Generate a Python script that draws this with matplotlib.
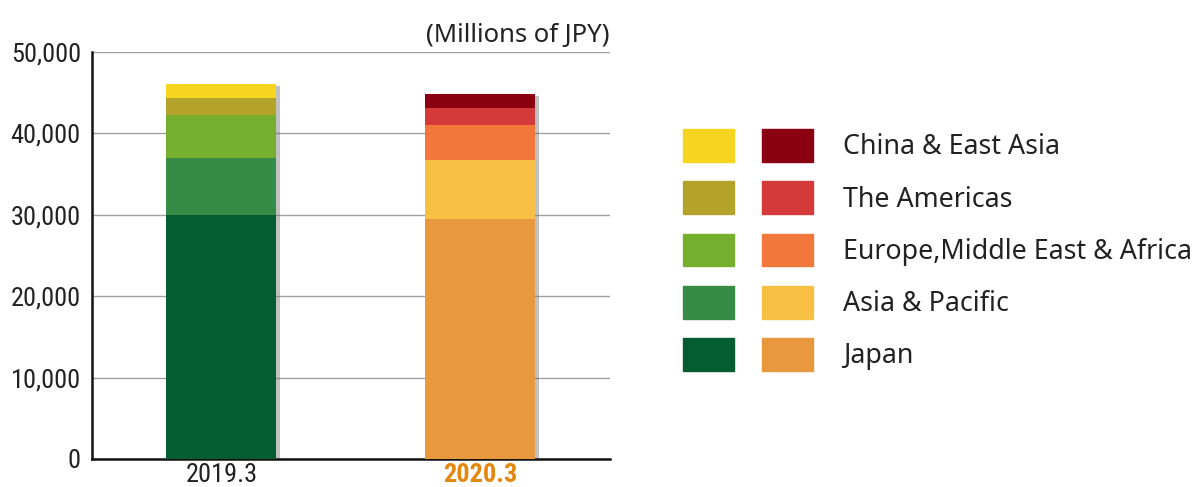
import numpy as np
import matplotlib
matplotlib.use('Agg')
import matplotlib.pyplot as plt
import matplotlib.patheffects as pe
from matplotlib.patches import Patch
from matplotlib.legend_handler import HandlerTuple
from matplotlib import font_manager

# data (millions of JPY)
periods = ['2019.3', '2020.3']
regions = ['Japan', 'Asia & Pacific', 'Europe,Middle East & Africa',
           'The Americas', 'China & East Asia']
sales_2019 = [29900, 7100, 5200, 2100, 1700]
sales_2020 = [29430, 7320, 4290, 2090, 1630]
colors_2019 = ['#045c31', '#368c47', '#76ae2e', '#b3a32a', '#f5d51f']
colors_2020 = ['#e8983d', '#f8bf45', '#f1773a', '#d53a3a', '#8a0010']

# look for a condensed face for the numbers
num_family, num_stretch, num_size = 'DejaVu Sans', 'normal', 15
for f in font_manager.fontManager.ttflist:
    if f.name in ('Liberation Sans Narrow', 'Roboto Condensed', 'Open Sans Condensed'):
        num_family, num_stretch, num_size = f.name, 'normal', 19
        break
    if f.name in ('DejaVu Sans', 'Noto Sans', 'Open Sans', 'Roboto') and \
            f.stretch in ('condensed', 'semi-condensed', 'extra-condensed'):
        num_family, num_stretch, num_size = f.name, f.stretch, 18
label_font = 'Noto Sans'
num_font = dict(fontfamily=num_family, fontstretch=num_stretch, fontsize=num_size)

fig = plt.figure(figsize=(11.96, 4.87), dpi=100)
ax = fig.add_axes([0.0769, 0.0575, 0.433, 0.8365])

x = np.arange(len(periods))
width = 0.425
values = [sales_2019, sales_2020]
colors = [colors_2019, colors_2020]

# soft shadow behind each stacked bar
totals = [sum(v) for v in values]
ax.bar(x, totals, width, color='#777777', zorder=2, alpha=0.0,
       path_effects=[pe.SimplePatchShadow(offset=(2.5, -1.5), shadow_rgbFace='#666666', alpha=0.4)])

for j in range(len(periods)):
    bottom = 0
    for i in range(len(regions)):
        ax.bar(x[j], values[j][i], width, bottom=bottom, color=colors[j][i],
               linewidth=0, zorder=3)
        bottom += values[j][i]

ax.set_xlim(-0.5, 1.5)
ax.set_ylim(0, 50000)
ax.set_yticks(np.arange(0, 50001, 10000))
ax.set_yticklabels([f'{v:,}' for v in range(0, 50001, 10000)], color='#222222', **num_font)
ax.set_xticks(x)
ax.set_xticklabels(periods, **num_font)
ax.get_xticklabels()[0].set_color('#222222')
ax.get_xticklabels()[1].set_color('#e5870f')
ax.get_xticklabels()[1].set_fontweight('bold')
ax.tick_params(axis='both', length=0)
ax.tick_params(axis='y', pad=8)
ax.tick_params(axis='x', pad=3)

ax.yaxis.grid(True, color='#a0a0a0', linewidth=1.0, zorder=0)
ax.set_axisbelow(True)
for s in ['top', 'right']:
    ax.spines[s].set_visible(False)
for s in ['left', 'bottom']:
    ax.spines[s].set_linewidth(1.8)
    ax.spines[s].set_color('#111111')

ax.text(1.0, 1.01, '(Millions of JPY)', transform=ax.transAxes, ha='right',
        va='bottom', fontsize=18.5, fontfamily=label_font, color='#222222')

# legend: two swatches per row (2019.3 / 2020.3), labels on the right
fs = 19.3
fpx = fs * 100 / 72
handles = [(Patch(color=colors_2019[i]), Patch(color=colors_2020[i]))
           for i in reversed(range(len(regions)))]
labels = list(reversed(regions))
leg = fig.legend(handles, labels, handler_map={tuple: HandlerTuple(ndivide=None, pad=28 / fpx)},
                 loc='center left', bbox_to_anchor=(683 / 1196, 0.4867),
                 frameon=False, borderaxespad=0, borderpad=0,
                 handlelength=130 / fpx, handleheight=33 * 1.22 / fpx,
                 handletextpad=30 / fpx, labelspacing=(52.5 - 33) / fpx,
                 prop={'family': label_font, 'size': fs})
for t in leg.get_texts():
    t.set_color('#222222')

fig.savefig('out.png', dpi=100)
